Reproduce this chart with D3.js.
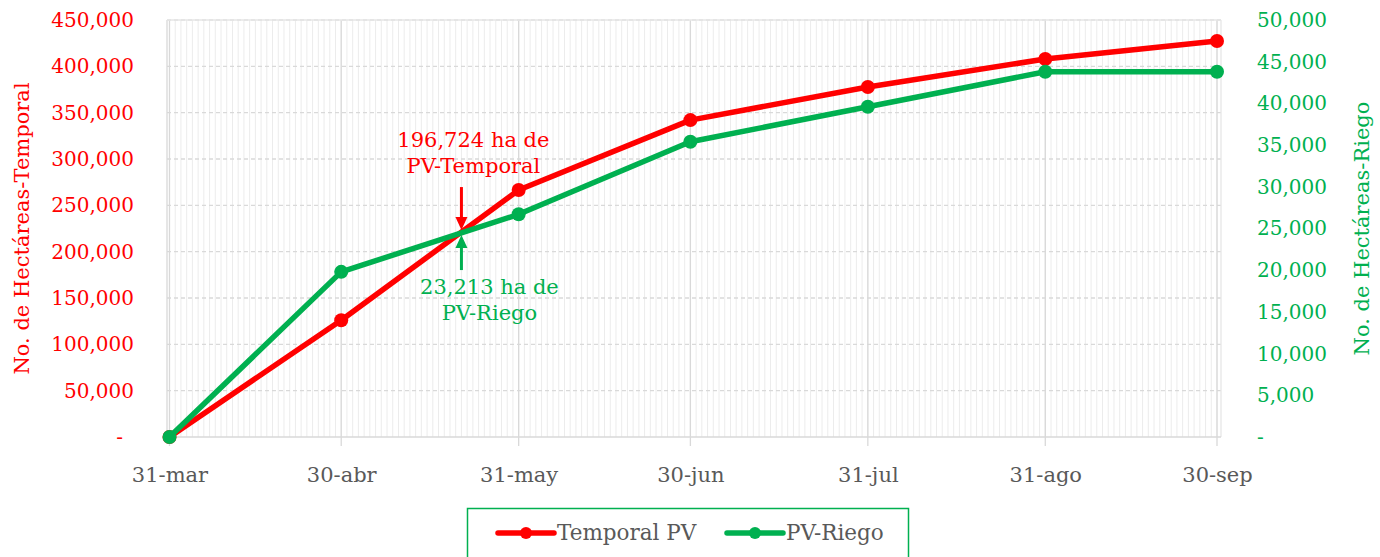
<!DOCTYPE html>
<html>
<head>
<meta charset="utf-8">
<script src="https://cdn.jsdelivr.net/npm/d3@7"></script>
<style>
  body { margin: 0; background: #fff; }
  svg { font-family: 'DejaVu Serif', serif; }
</style>
</head>
<body>
<svg id="chart"></svg>
<script>
const dates = ['2024-03-31', '2024-04-30', '2024-05-31', '2024-06-30', '2024-07-31', '2024-08-31', '2024-09-30']
const xLabels = ['31-mar', '30-abr', '31-may', '30-jun', '31-jul', '31-ago', '30-sep']
const temporal = [0, 126000, 266500, 342000, 377700, 407900, 427300]
const riego = [0, 19800, 26700, 35400, 39600, 43800, 43800]
const leftTicks = [0, 50000, 100000, 150000, 200000, 250000, 300000, 350000, 400000, 450000]
const rightTicks = [0, 5000, 10000, 15000, 20000, 25000, 30000, 35000, 40000, 45000, 50000]
const crossDate = '2024-05-21'
const crossTemporal = 219000
const noteTemporal = ['196,724 ha de', 'PV-Temporal']
const noteRiego = ['23,213 ha de', 'PV-Riego']
const seriesNames = ['Temporal PV', 'PV-Riego']

const red = '#ff0000'
const green = '#00b050'
const grey = '#595959'
const font = "'DejaVu Serif', serif"

const width = 1380
const height = 557
const plotLeft = 167
const plotRight = 1221
const plotTop = 20
const plotBottom = 437

const parse = d3.timeParse('%Y-%m-%d')
const xDates = dates.map(parse)

const svg = d3.select('#chart')
              .attr('width', width)
              .attr('height', height)

const xScale = d3.scaleTime()
                 .domain([xDates[0], xDates[xDates.length - 1]])
                 .range([169.5, 1217])
const yLeft = d3.scaleLinear()
                .domain([0, 450000])
                .range([plotBottom, plotTop])
const yRight = d3.scaleLinear()
                 .domain([0, 50000])
                 .range([plotBottom, plotTop])

// daily minor grid
const days = d3.timeDay.range(xDates[0], d3.timeDay.offset(xDates[xDates.length - 1], 1))
svg.append('g')
   .selectAll('line')
   .data(days)
   .join('line')
   .attr('x1', d => xScale(d))
   .attr('x2', d => xScale(d))
   .attr('y1', plotTop)
   .attr('y2', plotBottom)
   .attr('stroke', '#ececec')
   .attr('stroke-width', 1)

// horizontal dashed grid
svg.append('g')
   .selectAll('line')
   .data(leftTicks.filter(d => d > 0))
   .join('line')
   .attr('x1', plotLeft)
   .attr('x2', plotRight)
   .attr('y1', d => yLeft(d))
   .attr('y2', d => yLeft(d))
   .attr('stroke', '#d9d9d9')
   .attr('stroke-width', 1.3)
   .attr('stroke-dasharray', '4,3')

// major vertical grid
svg.append('g')
   .selectAll('line')
   .data(xDates)
   .join('line')
   .attr('x1', d => xScale(d))
   .attr('x2', d => xScale(d))
   .attr('y1', plotTop)
   .attr('y2', plotBottom + 9)
   .attr('stroke', '#d9d9d9')
   .attr('stroke-width', 1.3)

// plot frame edges
svg.append('line')
   .attr('x1', plotLeft).attr('x2', plotLeft)
   .attr('y1', plotTop).attr('y2', plotBottom)
   .attr('stroke', '#d9d9d9').attr('stroke-width', 1.3)
svg.append('line')
   .attr('x1', plotRight).attr('x2', plotRight)
   .attr('y1', plotTop).attr('y2', plotBottom)
   .attr('stroke', '#e6e6e6').attr('stroke-width', 1.3)
svg.append('line')
   .attr('x1', plotLeft).attr('x2', plotRight)
   .attr('y1', plotTop).attr('y2', plotTop)
   .attr('stroke', '#e6e6e6').attr('stroke-width', 1.3)
svg.append('line')
   .attr('x1', plotLeft).attr('x2', plotRight)
   .attr('y1', plotBottom).attr('y2', plotBottom)
   .attr('stroke', '#d9d9d9').attr('stroke-width', 1.3)

// axes
const fmt = d => d === 0 ? '-' : d3.format(',')(d)

const xAxis = d3.axisBottom(xScale)
                .tickValues(xDates)
                .tickFormat((d, i) => xLabels[i])
                .tickSize(0)
                .tickPadding(30)
svg.append('g')
   .attr('transform', `translate(0, ${plotBottom})`)
   .call(xAxis)
   .attr('font-family', font)
   .call(g => g.select('.domain').remove())
   .selectAll('text')
   .attr('fill', grey)
   .style('font-size', '21px')

const leftAxis = d3.axisLeft(yLeft)
                   .tickValues(leftTicks)
                   .tickFormat(fmt)
                   .tickSize(0)
                   .tickPadding(33)
svg.append('g')
   .attr('transform', `translate(${plotLeft}, 0)`)
   .call(leftAxis)
   .attr('font-family', font)
   .call(g => g.select('.domain').remove())
   .selectAll('text')
   .attr('fill', red)
   .attr('dx', d => d === 0 ? -11 : 0)
   .style('font-size', '20px')

const rightAxis = d3.axisRight(yRight)
                    .tickValues(rightTicks)
                    .tickFormat(fmt)
                    .tickSize(0)
                    .tickPadding(36)
svg.append('g')
   .attr('transform', `translate(${plotRight}, 0)`)
   .call(rightAxis)
   .attr('font-family', font)
   .call(g => g.select('.domain').remove())
   .selectAll('text')
   .attr('fill', green)
   .style('font-size', '20px')

// axis titles
svg.append('text')
   .text('No. de Hectáreas-Temporal')
   .attr('transform', `translate(29, ${(plotTop + plotBottom) / 2 + 0})rotate(-90)`)
   .attr('text-anchor', 'middle')
   .attr('fill', red)
   .style('font-size', '21px')

svg.append('text')
   .text('No. de Hectáreas-Riego')
   .attr('transform', `translate(1369, ${(plotTop + plotBottom) / 2 + 0})rotate(-90)`)
   .attr('text-anchor', 'middle')
   .attr('fill', green)
   .style('font-size', '21px')

// series
const series = [
  { name: seriesNames[0], values: temporal, y: yLeft, color: red },
  { name: seriesNames[1], values: riego, y: yRight, color: green }
]

series.forEach(s => {
  const line = d3.line()
                 .x((d, i) => xScale(xDates[i]))
                 .y(d => s.y(d))
  svg.append('path')
     .datum(s.values)
     .attr('d', line)
     .attr('fill', 'none')
     .attr('stroke', s.color)
     .attr('stroke-width', 5.5)
     .attr('stroke-linejoin', 'round')
  svg.append('g')
     .selectAll('circle')
     .data(s.values)
     .join('circle')
     .attr('cx', (d, i) => xScale(xDates[i]))
     .attr('cy', d => s.y(d))
     .attr('r', 7)
     .attr('fill', s.color)
})

// annotations
const cx = xScale(parse(crossDate))
const cy = yLeft(crossTemporal)

const arrow = (color, y1, y2) => {
  const dir = y2 > y1 ? 1 : -1
  svg.append('line')
     .attr('x1', cx).attr('x2', cx)
     .attr('y1', y1).attr('y2', y2 - dir * 10)
     .attr('stroke', color)
     .attr('stroke-width', 3)
  svg.append('path')
     .attr('d', `M${cx - 6},${y2 - dir * 13}L${cx + 6},${y2 - dir * 13}L${cx},${y2}Z`)
     .attr('fill', color)
}
arrow(red, cy - 47, cy - 4)
arrow(green, cy + 36, cy + 1)

svg.append('g')
   .selectAll('text')
   .data(noteTemporal)
   .join('text')
   .text(d => d)
   .attr('x', cx + 12)
   .attr('y', (d, i) => cy - 87 + i * 26)
   .attr('text-anchor', 'middle')
   .attr('fill', red)
   .style('font-size', '21px')

svg.append('g')
   .selectAll('text')
   .data(noteRiego)
   .join('text')
   .text(d => d)
   .attr('x', cx + 28)
   .attr('y', (d, i) => cy + 60 + i * 26)
   .attr('text-anchor', 'middle')
   .attr('fill', green)
   .style('font-size', '21px')

// legend
const legend = svg.append('g')
svg.append('rect')
   .attr('x', 467.5)
   .attr('y', 508.5)
   .attr('width', 441)
   .attr('height', 60)
   .attr('fill', 'none')
   .attr('stroke', green)
   .attr('stroke-width', 1.5)

const legendX = [498, 727]
series.forEach((s, i) => {
  const g = legend.append('g').attr('transform', `translate(${legendX[i]}, 533)`)
  g.append('line')
   .attr('x1', 0).attr('x2', 56)
   .attr('stroke', s.color)
   .attr('stroke-width', 5.5)
   .attr('stroke-linecap', 'round')
  g.append('circle')
   .attr('cx', 28)
   .attr('r', 6)
   .attr('fill', s.color)
  g.append('text')
   .text(s.name)
   .attr('x', 59)
   .attr('y', 7)
   .attr('fill', grey)
   .style('font-size', '21.5px')
})
</script>
</body>
</html>
